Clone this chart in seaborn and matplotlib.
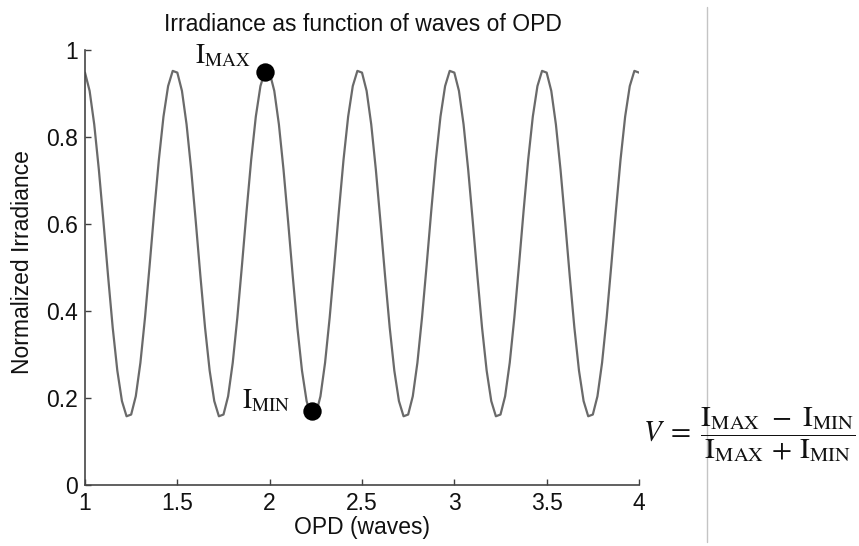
import numpy as np
import pandas as pd
import matplotlib
matplotlib.use("Agg")
import matplotlib.pyplot as plt
from matplotlib.lines import Line2D
import seaborn as sns

# ---- data ----
opd = np.linspace(1.0, 4.0, 121)  # sample positions (waves)
irradiance = [
    0.948, 0.906, 0.829, 0.725, 0.605, 0.480, 0.362, 0.263, 0.193, 0.158,
    0.162, 0.204, 0.281, 0.385, 0.505, 0.630, 0.748, 0.847, 0.917, 0.952,
    0.948, 0.906, 0.829, 0.725, 0.605, 0.480, 0.362, 0.263, 0.193, 0.158,
    0.162, 0.204, 0.281, 0.385, 0.505, 0.630, 0.748, 0.847, 0.917, 0.952,
    0.948, 0.906, 0.829, 0.725, 0.605, 0.480, 0.362, 0.263, 0.193, 0.158,
    0.162, 0.204, 0.281, 0.385, 0.505, 0.630, 0.748, 0.847, 0.917, 0.952,
    0.948, 0.906, 0.829, 0.725, 0.605, 0.480, 0.362, 0.263, 0.193, 0.158,
    0.162, 0.204, 0.281, 0.385, 0.505, 0.630, 0.748, 0.847, 0.917, 0.952,
    0.948, 0.906, 0.829, 0.725, 0.605, 0.480, 0.362, 0.263, 0.193, 0.158,
    0.162, 0.204, 0.281, 0.385, 0.505, 0.630, 0.748, 0.847, 0.917, 0.952,
    0.948, 0.906, 0.829, 0.725, 0.605, 0.480, 0.362, 0.263, 0.193, 0.158,
    0.162, 0.204, 0.281, 0.385, 0.505, 0.630, 0.748, 0.847, 0.917, 0.952,
    0.948,
]
marker_opd = [1.975, 2.231]
marker_irr = [0.950, 0.169]
marker_labels = [r"$\mathrm{I}_{\mathrm{MAX}}$", r"$\mathrm{I}_{\mathrm{MIN}}$"]
label_pos = [(1.894, 0.970), (2.111, 0.177)]
xticks = [1, 1.5, 2, 2.5, 3, 3.5, 4]
xtick_labels = ["1", "1.5", "2", "2.5", "3", "3.5", "4"]
yticks = [0, 0.2, 0.4, 0.6, 0.8, 1]
ytick_labels = ["0", "0.2", "0.4", "0.6", "0.8", "1"]
title = "Irradiance as function of waves of OPD"
xlabel = "OPD (waves)"
ylabel = "Normalized Irradiance"
equation = (r"$V\;=\;\dfrac{\mathrm{I}_{\mathrm{MAX}}\ -\ \mathrm{I}_{\mathrm{MIN}}}"
            r"{\mathrm{I}_{\mathrm{MAX}}\,+\,\mathrm{I}_{\mathrm{MIN}}}$")

# ---- style ----
sns.set_theme(style="white")
plt.rcParams['font.family'] = ['Liberation Sans', 'DejaVu Sans']
plt.rcParams['mathtext.fontset'] = 'stix'

W, H = 859, 546
fig = plt.figure(figsize=(W / 100, H / 100), dpi=100)
fig.patch.set_facecolor("white")
ax = fig.add_axes([85 / W, 1 - 485 / H, (639 - 85) / W, (485 - 50) / H])
ax.set_facecolor("white")

df = pd.DataFrame({"opd": opd, "irr": irradiance})
sns.lineplot(data=df, x="opd", y="irr", ax=ax, color="#6a6a6a", linewidth=1.6)
sns.scatterplot(x=marker_opd, y=marker_irr, ax=ax, color="black", s=175,
                edgecolor="black", linewidth=0, zorder=5)

for (tx, ty), lab in zip(label_pos, marker_labels):
    ax.text(tx, ty, lab, ha="right", va="baseline", fontsize=19.5, color="#111111")

ax.set_xlim(1, 4)
ax.set_ylim(0, 1)
ax.set_xticks(xticks)
ax.set_xticklabels(xtick_labels)
ax.set_yticks(yticks)
ax.set_yticklabels(ytick_labels)
ax.tick_params(axis="both", direction="in", length=4.5, width=1, color="#404040",
               labelsize=16.5, labelcolor="#111111", pad=5,
               bottom=True, left=True, top=False, right=False)
for side in ["top", "right"]:
    ax.spines[side].set_visible(False)
for side in ["left", "bottom"]:
    ax.spines[side].set_color("#454545")
    ax.spines[side].set_linewidth(1.2)
ax.set_xlabel("")
ax.set_ylabel("")

fig.text(363 / W, 1 - 31 / H, title, ha="center", va="baseline",
         fontsize=16.5, color="#111111")
fig.text(362 / W, 1 - 534 / H, xlabel, ha="center", va="baseline",
         fontsize=16.5, color="#111111")
fig.text(23 / W, 1 - 262 / H, ylabel, ha="center", va="center", rotation=90,
         fontsize=16.5, color="#111111")

# separator line and visibility formula
fig.add_artist(Line2D([707 / W, 707 / W], [1 - 7 / H, 1 - 542 / H],
                      color="#c4c4c4", linewidth=1))
fig.text(855 / W, 1 - 435 / H, equation, ha="right", va="center",
         fontsize=21, color="#111111")

fig.savefig("out.png", dpi=100, facecolor="white")
